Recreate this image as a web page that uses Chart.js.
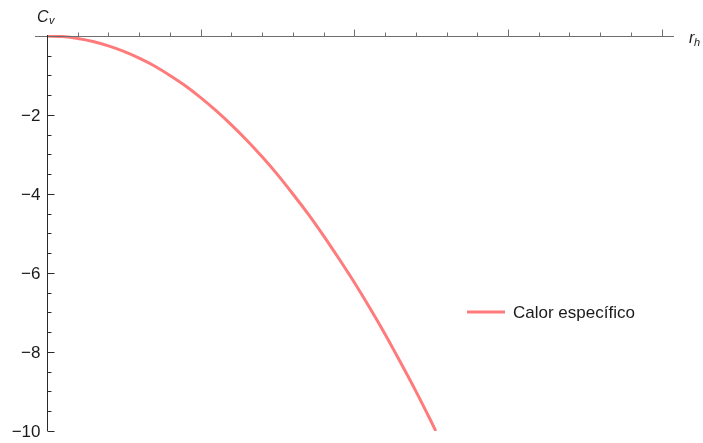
<!DOCTYPE html>
<html>
<head>
<meta charset="utf-8">
<script src="https://cdn.jsdelivr.net/npm/chart.js@4.4.1/dist/chart.umd.min.js"></script>
<style>
    html, body { margin: 0; padding: 0; background: #fff; }
</style>
</head>
<body>
<canvas id="chart" width="703" height="443"></canvas>
<script>
"use strict";

// DATA
const rh = [0, 0.1, 0.2, 0.3, 0.4, 0.5, 0.6, 0.7, 0.8, 0.9, 1.0, 1.1, 1.2, 1.3,
    1.4, 1.5, 1.6, 1.7, 1.8, 1.9, 2.0, 2.1, 2.2, 2.3, 2.4, 2.5, 2.53];
const cv = [0, -0.016, -0.062, -0.14, -0.25, -0.39, -0.56, -0.76, -1.0, -1.26, -1.56,
    -1.89, -2.25, -2.64, -3.06, -3.51, -4.0, -4.51, -5.06, -5.64, -6.24, -6.88,
    -7.55, -8.26, -8.99, -9.76, -10.0];
const yTickValues = [-2, -4, -6, -8, -10];
const yTickLabels = ["−2", "−4", "−6", "−8", "−10"];
const xMinorStep = 0.2;
const yMinorStep = 0.5;
const seriesLabel = "Calor específico";

const FONT = "\"Liberation Sans\", Arial, sans-serif";
const LINE_COLOR = "#ff7b7b";

// Mathematica-like axes through the origin, ticks and legend
const axesPlugin = {
    id: "axesThroughOrigin",
    afterDatasetsDraw(chart) {
        const { ctx, scales: { x, y } } = chart;
        const x0 = Math.round(x.getPixelForValue(0)) + 0.5;
        const y0 = Math.round(y.getPixelForValue(0)) + 0.5;

        ctx.save();

        // horizontal axis
        ctx.strokeStyle = "#6f6f6f";
        ctx.lineWidth = 1;
        ctx.beginPath();
        ctx.moveTo(x.left, y0);
        ctx.lineTo(x.right, y0);
        for (let i = 1; i * xMinorStep <= x.max + 1e-9; i++) {
            const px = Math.round(x.getPixelForValue(i * xMinorStep)) + 0.5;
            const len = i % 5 === 0 ? 7 : 4;
            ctx.moveTo(px, y0);
            ctx.lineTo(px, y0 - len);
        }
        ctx.stroke();

        // vertical axis
        ctx.strokeStyle = "#2a2a2a";
        ctx.beginPath();
        ctx.moveTo(x0, y.top);
        ctx.lineTo(x0, y.bottom);
        for (let i = 1; -i * yMinorStep >= y.min - 1e-9; i++) {
            const py = Math.round(y.getPixelForValue(-i * yMinorStep)) + 0.5;
            const len = i % 4 === 0 ? 7 : 4;
            ctx.moveTo(x0, py);
            ctx.lineTo(x0 + len, py);
        }
        ctx.stroke();

        // y tick labels
        ctx.fillStyle = "#1a1a1a";
        ctx.font = `17px ${FONT}`;
        ctx.textAlign = "right";
        ctx.textBaseline = "middle";
        yTickValues.forEach((v, i) => {
            ctx.fillText(yTickLabels[i], x0 - 7, y.getPixelForValue(v) + 1);
        });

        // axis titles
        ctx.textAlign = "left";
        ctx.textBaseline = "alphabetic";
        ctx.font = `italic 16px ${FONT}`;
        ctx.fillText("C", 37, 22);
        ctx.fillText("r", 689, 43);
        ctx.font = `italic 11px ${FONT}`;
        ctx.fillText("v", 49, 24);
        ctx.fillText("h", 694, 46);

        // legend
        const ds = chart.data.datasets[0];
        ctx.strokeStyle = ds.borderColor;
        ctx.lineWidth = ds.borderWidth;
        ctx.beginPath();
        ctx.moveTo(467, 312);
        ctx.lineTo(505, 312);
        ctx.stroke();
        ctx.fillStyle = "#1a1a1a";
        ctx.font = `17px ${FONT}`;
        ctx.textBaseline = "middle";
        ctx.fillText(ds.label, 513, 313);

        ctx.restore();
    }
};

const points = rh.map((v, i) => ({ x: v, y: cv[i] }));

new Chart(document.getElementById("chart"), {
    type: "line",
    data: {
        datasets: [{
            label: seriesLabel,
            data: points,
            borderColor: LINE_COLOR,
            borderWidth: 3,
            pointRadius: 0,
            cubicInterpolationMode: "monotone",
            fill: false
        }]
    },
    options: {
        responsive: false,
        animation: false,
        layout: {
            padding: { left: 35, right: 29, top: 35, bottom: 12 }
        },
        scales: {
            x: { type: "linear", min: -0.078, max: 4.08, display: false },
            y: { type: "linear", min: -10, max: 0.025, display: false }
        },
        plugins: {
            legend: { display: false },
            tooltip: { enabled: false }
        }
    },
    plugins: [axesPlugin]
});
</script>
</body>
</html>
